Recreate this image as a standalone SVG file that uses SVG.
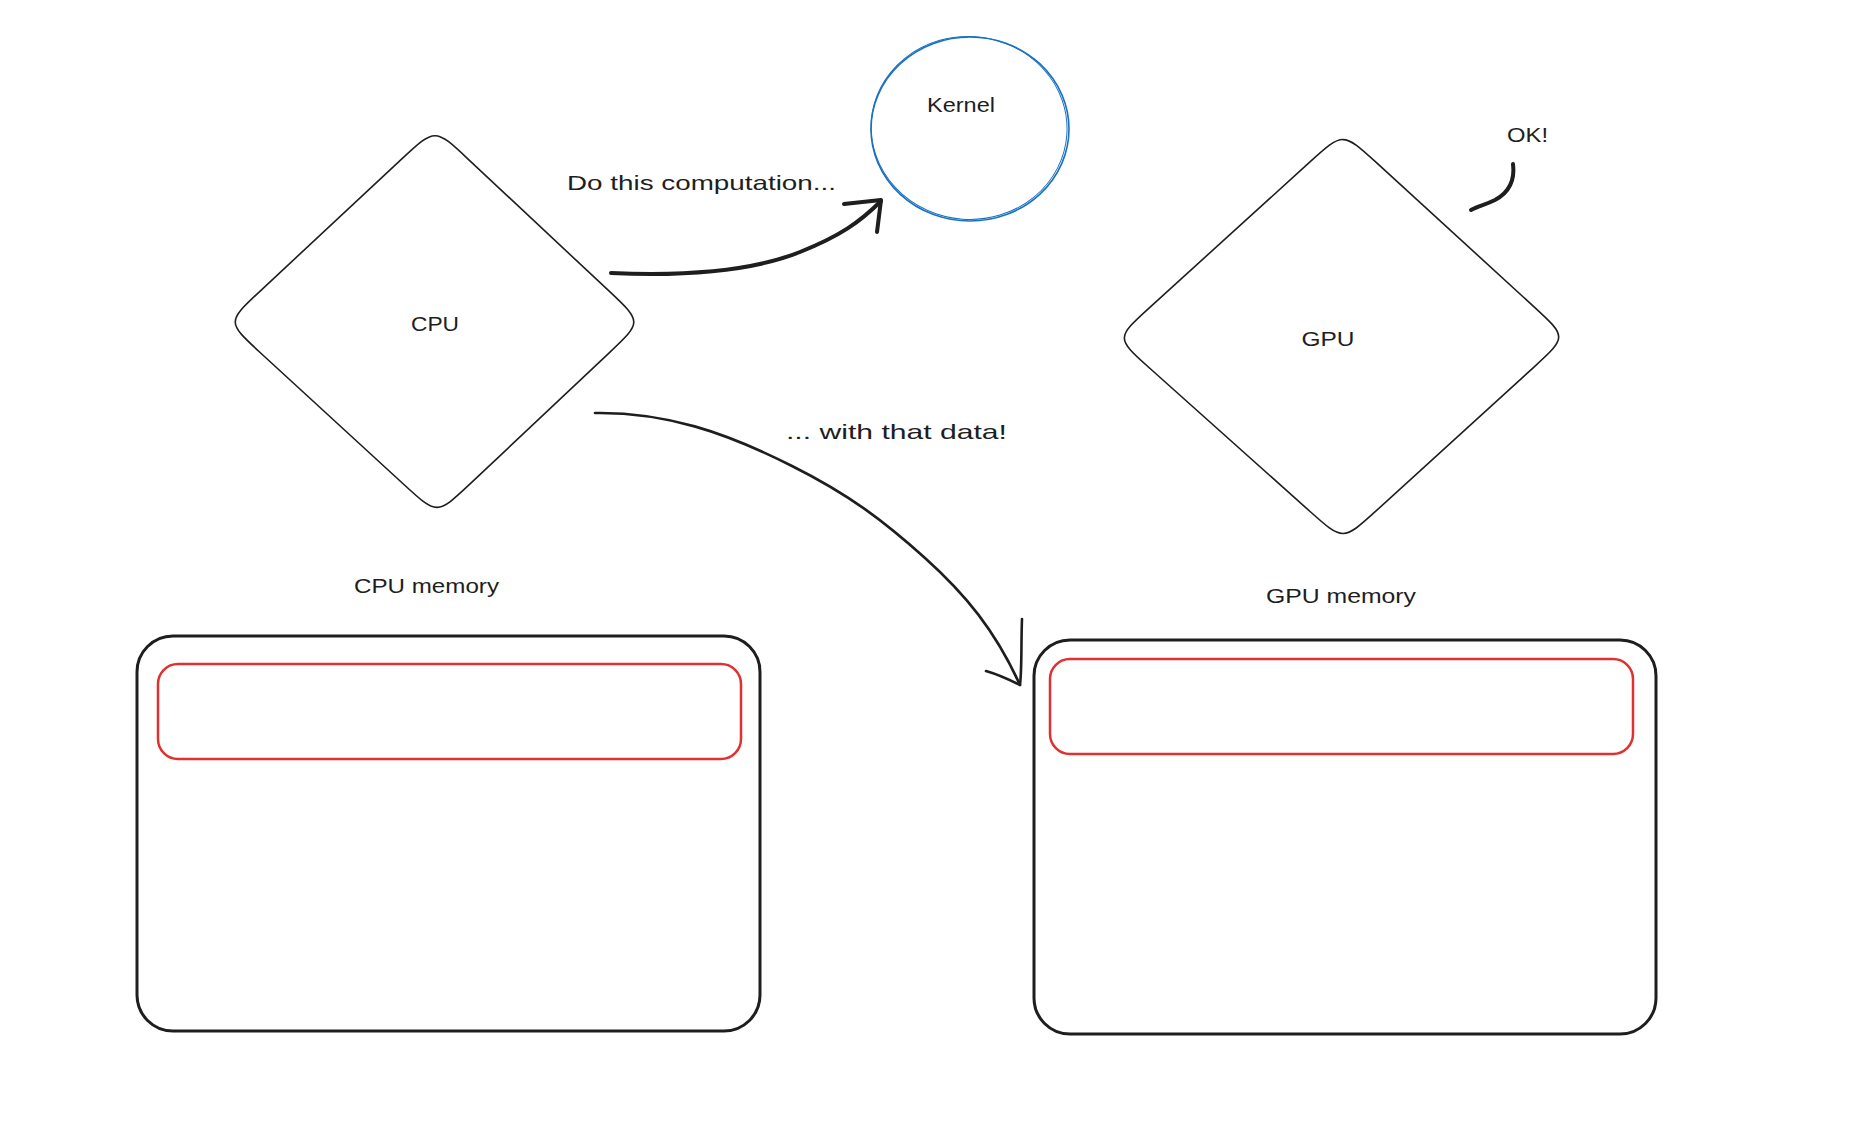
<svg xmlns="http://www.w3.org/2000/svg" width="1859" height="1123" viewBox="0 0 1859 1123">
<style>
.lbl{font-family:"Liberation Sans","DejaVu Sans",sans-serif;font-size:21px;fill:#1e1e1e}
.shape{fill:none;stroke:#1e1e1e;stroke-width:1.6;stroke-linejoin:round}
.mem{fill:none;stroke:#1e1e1e;stroke-width:3}
.slot{fill:none;stroke:#e03131;stroke-width:2.5}
.conn{fill:none;stroke:#1e1e1e;stroke-linecap:round;stroke-linejoin:round}
</style>
<rect width="1859" height="1123" fill="#ffffff"/>
<g id="kernel">
<ellipse cx="970" cy="129" rx="99" ry="92" fill="none" stroke="#1971c2" stroke-width="1.6"/>
<ellipse cx="969" cy="128" rx="98" ry="91.5" fill="none" stroke="#1971c2" stroke-width="1" transform="rotate(4 970 129)"/>
<text class="lbl" x="961" y="112" text-anchor="middle" textLength="68" lengthAdjust="spacingAndGlyphs">Kernel</text>
</g>
<g id="cpu">
<path class="shape" d="M402.1,158.7 C435,128 435,128 467.8,158.8 L609.2,291.2 C642,322 642,322 609.2,352.8 L469.8,484.2 C437,515 437,515 403.9,484.5 L260.1,352.5 C227,322 227,322 259.9,291.3 Z"/>
<text class="lbl" x="435" y="331" text-anchor="middle" textLength="48" lengthAdjust="spacingAndGlyphs">CPU</text>
</g>
<g id="gpu">
<path class="shape" d="M1309.7,162.2 C1343,132 1343,132 1376.2,162.4 L1533.8,306.6 C1567,337 1567,337 1533.7,367.3 L1376.3,510.7 C1343,541 1343,541 1309.5,511 L1149.5,368 C1116,338 1116,338 1149.3,307.8 Z"/>
<text class="lbl" x="1328" y="346" text-anchor="middle" textLength="53" lengthAdjust="spacingAndGlyphs">GPU</text>
</g>
<g id="cpu-memory">
<rect class="mem" x="137" y="636" width="623" height="395" rx="36" ry="36"/>
<rect class="slot" x="158" y="664" width="583" height="95" rx="20" ry="20"/>
<text class="lbl" x="354" y="593" textLength="145" lengthAdjust="spacingAndGlyphs">CPU memory</text>
</g>
<g id="gpu-memory">
<rect class="mem" x="1034" y="640" width="622" height="394" rx="36" ry="36"/>
<rect class="slot" x="1050" y="659" width="583" height="95" rx="20" ry="20"/>
<text class="lbl" x="1266" y="603" textLength="150" lengthAdjust="spacingAndGlyphs">GPU memory</text>
</g>
<g id="connectors">
<g id="arrow-compute">
<path class="conn" stroke-width="4" d="M611,273 C700,277 760,268 800,252 S860,222 881,201"/>
<path class="conn" stroke-width="4" d="M844,204 L881,200 L877,232"/>
<text class="lbl" x="567" y="190" textLength="269" lengthAdjust="spacingAndGlyphs">Do this computation...</text>
</g>
<g id="arrow-data">
<path class="conn" stroke-width="2.6" d="M595,413 C665,412 725,432 792,466 C850,495 885,522 925,558 C965,594 995,630 1020,685"/>
<path class="conn" stroke-width="2.6" d="M1022,619 C1021,645 1022,668 1020,685 M986,671 C1000,675 1010,680 1020,685"/>
<text class="lbl" x="786" y="439" textLength="221" lengthAdjust="spacingAndGlyphs">... with that data!</text>
</g>
<g id="ok-callout">
<path class="conn" stroke-width="4" d="M1513,164 C1515,180 1510,192 1495,200 C1485,205 1478,206 1471,210"/>
<text class="lbl" x="1507" y="142" textLength="41" lengthAdjust="spacingAndGlyphs">OK!</text>
</g>
</g>
</svg>
